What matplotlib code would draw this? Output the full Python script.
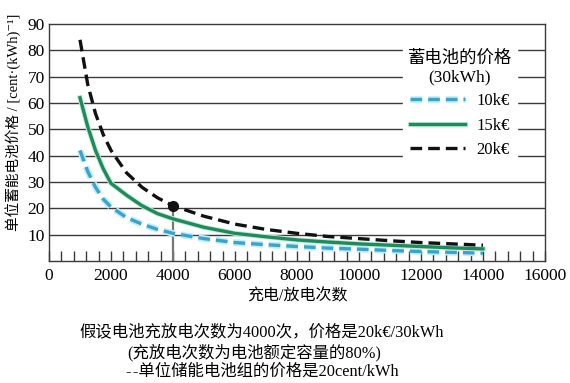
import matplotlib
matplotlib.use('Agg')
import matplotlib.pyplot as plt
import matplotlib.patheffects as pe
from matplotlib.ticker import MultipleLocator

plt.rcParams['font.family'] = ['Liberation Serif', 'Noto Sans CJK SC', 'DejaVu Serif']

# cycles (charge/discharge count)
cycles = [1000, 1250, 1500, 1750, 2000, 2500, 3000, 3500, 4000, 5000, 6000,
          7000, 8000, 9000, 10000, 11000, 12000, 13000, 14000]
# unit storage price, cent/kWh
price_10k = [42, 34, 28, 23.5, 20.5, 16.5, 14, 12, 10.5, 8.5, 7, 6.2, 5.5,
             4.9, 4.5, 4.0, 3.6, 3.3, 3.0]
price_15k = [62, 51, 42, 35, 29.5, 25, 21, 18, 16, 12.8, 10.5, 9.2, 8, 7.2,
             6.5, 6.0, 5.5, 5.0, 4.6]
price_20k = [84, 67, 56, 48, 42, 33.5, 28, 24, 21, 17, 14, 12, 10.5, 9.3,
             8.5, 7.7, 7.0, 6.5, 6.0]
labels = ['10k€', '15k€', '20k€']
marker_x, marker_y = 4000, 21

fig = plt.figure(figsize=(5.7, 3.83), dpi=100)
ax = fig.add_axes([49 / 570, 1 - 261 / 383, 496 / 570, 237 / 383])

ax.set_xlim(0, 16000)
ax.set_ylim(0, 90)

# horizontal grid
for v in range(10, 90, 10):
    ax.axhline(v, color='#3a3a3a', lw=1.0, zorder=1)

ax.plot([marker_x, marker_x], [0, marker_y], color='#777777', lw=1.6, zorder=2)

ax.plot(cycles, price_10k, color='#3aa3cc', lw=2.4, dashes=(3.5, 1.8),
        label=labels[0], zorder=3,
        path_effects=[pe.Stroke(linewidth=4.8, foreground='#bdeef8'), pe.Normal()])
ax.plot(cycles, price_15k, color='#1f8a5c', lw=2.4, label=labels[1], zorder=3,
        path_effects=[pe.Stroke(linewidth=3.8, foreground='#c4ecd8'), pe.Normal()])
ax.plot(cycles, price_20k, color='#111111', lw=2.4, dashes=(3.5, 1.8),
        label=labels[2], zorder=4)
ax.plot([marker_x], [marker_y], 'o', color='#111111', ms=7, zorder=5)

for s in ax.spines.values():
    s.set_color('#3a3a3a')
    s.set_linewidth(1.0)

ax.xaxis.set_major_locator(MultipleLocator(2000))
ax.xaxis.set_minor_locator(MultipleLocator(400))
ax.tick_params(axis='x', which='both', direction='in', length=7, width=1,
               color='#3a3a3a', labelsize=12.5, pad=5)
ax.set_yticks(range(10, 100, 10))
ax.tick_params(axis='y', length=0, labelsize=12.5, pad=3)
ax.set_xticks(range(0, 16001, 2000))
ax.set_xticklabels([str(v) for v in range(0, 16001, 2000)])

leg = ax.legend(title='蓄电池的价格\n(30kWh)', loc='upper right',
                bbox_to_anchor=(0.96, 0.945), frameon=True, fontsize=12,
                title_fontsize=12.5, handlelength=3.3, handletextpad=0.7,
                labelspacing=0.5, borderpad=0.3)
leg.get_frame().set_edgecolor('white')
leg.get_frame().set_facecolor('white')
leg.get_frame().set_alpha(1)
leg.get_frame().set_boxstyle('square', pad=0)
leg.get_title().set_fontweight('medium')
leg.get_title().set_multialignment('center')
leg.set_zorder(6)

fig.text(13 / 570, 1 - 122 / 383, '单位蓄能电池价格 / [cent·(kWh)⁻¹]',
         rotation=90, ha='center', va='center', fontsize=10.5, fontweight='medium')
fig.text(297 / 570, 1 - 297 / 383, '充电/放电次数', ha='center', va='center',
         fontsize=11.5)
fig.text(262 / 570, 1 - 332 / 383, '假设电池充放电次数为4000次，价格是20k€/30kWh',
         ha='center', va='center', fontsize=11.8)
fig.text(254 / 570, 1 - 353 / 383, '(充放电次数为电池额定容量的80%)',
         ha='center', va='center', fontsize=11.8)
fig.text(262 / 570, 1 - 372 / 383, '-\u200a-单位储能电池组的价格是20cent/kWh',
         ha='center', va='center', fontsize=11.8)

fig.savefig('out.png', dpi=100)
